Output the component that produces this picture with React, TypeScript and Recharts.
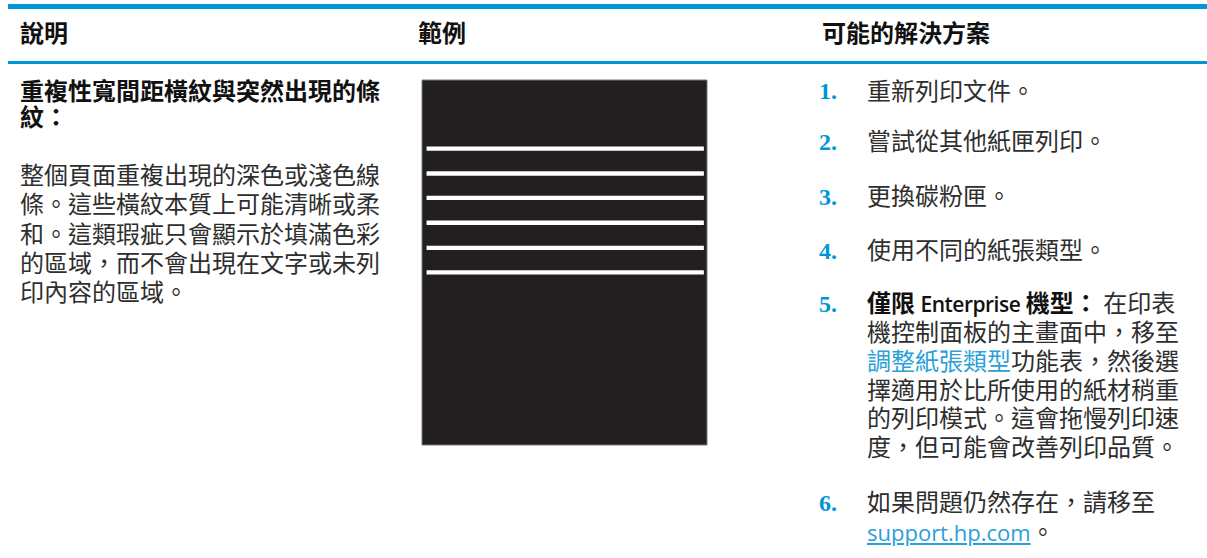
import React from "react";
import {
  ComposedChart,
  XAxis,
  YAxis,
  ReferenceArea,
  ReferenceLine,
  Line,
} from "recharts";

// page sample: stripes measured as % of page height (top = 0)
const stripeRows = [18.8, 25.6, 32.3, 39.1, 46.0, 52.7];
const stripeFrom = 1.6;
const stripeTo = 98.9;
const pageData = [
  { x: 0, y: 0 },
  { x: 100, y: 100 },
];

const headers = ["說明", "範例", "可能的解決方案"];
const titleLines = ["重複性寬間距橫紋與突然出現的條", "紋："];
const descLines = [
  "整個頁面重複出現的深色或淺色線",
  "條。這些橫紋本質上可能清晰或柔",
  "和。這類瑕疵只會顯示於填滿色彩",
  "的區域，而不會出現在文字或未列",
  "印內容的區域。",
];
const steps = ["重新列印文件。", "嘗試從其他紙匣列印。", "更換碳粉匣。", "使用不同的紙張類型。"];
const stepY = [91.5, 142, 197, 251];

const BLUE = "#0096d6";
const LINK = "#2b9fd8";
const INK = "#231f20";
const BODY = "#2e2e2e";
const CJK = '"Noto Sans CJK TC", "Noto Sans", sans-serif';
const LATIN = '"Open Sans", "Noto Sans", sans-serif';

function at(left: number, centerY: number, lh: number) {
  return {
    position: "absolute" as const,
    left,
    top: centerY - lh / 2 - 1.3,
    height: lh,
    lineHeight: `${lh}px`,
    whiteSpace: "nowrap" as const,
  };
}

function Num({ n, y }: { n: number; y: number }) {
  return (
    <div
      style={{
        ...at(819, y, 28),
        top: y - 14 - 0.5,
        fontFamily: '"Liberation Serif", serif',
        fontWeight: 700,
        fontSize: 24,
        color: BLUE,
      }}
    >
      {n}.
    </div>
  );
}

function StripeSample() {
  return (
    <ComposedChart
      width={287}
      height={367}
      data={pageData}
      margin={{ top: 1, right: 1, bottom: 1, left: 1 }}
    >
      <XAxis type="number" dataKey="x" domain={[0, 100]} hide allowDataOverflow />
      <YAxis type="number" domain={[0, 100]} reversed hide allowDataOverflow />
      <ReferenceArea
        x1={0}
        x2={100}
        y1={0}
        y2={100}
        fill={INK}
        fillOpacity={1}
        stroke="#77787b"
        strokeWidth={1}
      />
      {stripeRows.map((y) => (
        <ReferenceLine
          key={y}
          segment={[
            { x: stripeFrom, y },
            { x: stripeTo, y },
          ]}
          stroke="#ffffff"
          strokeWidth={4.4}
        />
      ))}
      <Line dataKey="y" stroke="none" dot={false} isAnimationActive={false} />
    </ComposedChart>
  );
}

export default function App() {
  return (
    <div
      style={{
        position: "absolute",
        left: 0,
        top: 0,
        width: 1207,
        height: 558,
        background: "#fff",
        fontFamily: CJK,
        fontSize: 24,
        color: INK,
        overflow: "hidden",
      }}
    >
      <div style={{ position: "absolute", left: 8, top: 4, width: 1199, height: 5, background: BLUE }} />
      <div style={{ position: "absolute", left: 8, top: 61, width: 1199, height: 3, background: BLUE }} />

      {headers.map((h, i) => (
        <div key={h} style={{ ...at([20, 418, 822][i], 33, 30), fontWeight: 700, color: "#111" }}>
          {h}
        </div>
      ))}

      {titleLines.map((t, i) => (
        <div key={t} style={{ ...at(20, 91 + i * 26, 26), fontWeight: 700, color: "#111" }}>
          {t}
        </div>
      ))}
      {descLines.map((t, i) => (
        <div key={t} style={{ ...at(20, 175 + i * 29.2, 29), color: BODY }}>
          {t}
        </div>
      ))}

      <div style={{ position: "absolute", left: 421, top: 79 }}>
        <StripeSample />
      </div>

      {steps.map((s, i) => (
        <React.Fragment key={s}>
          <Num n={i + 1} y={stepY[i]} />
          <div style={{ ...at(867, stepY[i], 28.8), color: BODY }}>{s}</div>
        </React.Fragment>
      ))}

      <Num n={5} y={304} />
      <div style={{ ...at(867, 304, 28.8), color: BODY }}>
        <span style={{ fontWeight: 700, color: "#111" }}>
          僅限 <span style={{ fontFamily: LATIN, fontWeight: 600, fontSize: 21, letterSpacing: -0.5 }}>Enterprise</span> 機型：
        </span>
        {"  "}在印表
      </div>
      <div style={{ ...at(867, 333, 28.8), color: BODY }}>機控制面板的主畫面中，移至</div>
      <div style={{ ...at(867, 362, 28.8), color: BODY }}>
        <span style={{ color: LINK }}>調整紙張類型</span>功能表，然後選
      </div>
      <div style={{ ...at(867, 391, 28.8), color: BODY }}>擇適用於比所使用的紙材稍重</div>
      <div style={{ ...at(867, 419, 28.8), color: BODY }}>的列印模式。這會拖慢列印速</div>
      <div style={{ ...at(867, 448, 28.8), color: BODY }}>度，但可能會改善列印品質。</div>

      <Num n={6} y={503} />
      <div style={{ ...at(867, 503, 28.8), color: BODY }}>如果問題仍然存在，請移至</div>
      <div style={{ ...at(867, 533, 28.8), color: BODY }}>
        <span
          style={{
            color: LINK,
            textDecoration: "underline",
            fontFamily: LATIN,
            fontSize: 22,
          }}
        >
          support.hp.com
        </span>
        。
      </div>
    </div>
  );
}
